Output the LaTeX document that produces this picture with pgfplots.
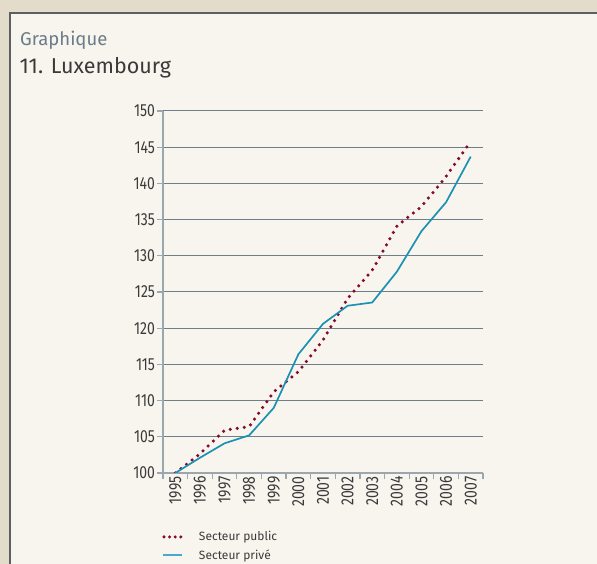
\documentclass[border=0pt]{standalone}
\usepackage{fontspec}
\setmainfont{Fira Sans}
\newfontfamily\condfont[FakeStretch=0.8]{Fira Sans}
\usepackage{pgfplots}
\pgfplotsset{compat=1.18}
\definecolor{outerbg}{HTML}{E4DCCB}
\definecolor{innerbg}{HTML}{F8F5EE}
\definecolor{boxline}{HTML}{5C6062}
\definecolor{gridcol}{HTML}{6F7F8A}
\definecolor{axiscol}{HTML}{9BA7AF}
\definecolor{privblue}{HTML}{1B91B3}
\definecolor{legblue}{HTML}{4AA8CC}
\definecolor{pubred}{HTML}{850B2C}
\definecolor{titlegray}{HTML}{6A7C88}
\definecolor{txt}{HTML}{3A3A3A}
\pgfplotsset{
  pubimg/.style={legend image code/.code={\draw[draw=pubred, line width=3.4bp, line cap=round, dash pattern=on 0bp off 5.6bp] (0bp,0bp) -- (17bp,0bp); \path[draw=none] (0bp,0bp) -- (33bp,0bp);}},
  privimg/.style={legend image code/.code={\draw[draw=legblue, line width=2bp, solid] (-1bp,0bp) -- (18bp,0bp); \path[draw=none] (0bp,0bp) -- (33bp,0bp);}},
}
\begin{document}
\begin{tikzpicture}
\useasboundingbox (0bp,0bp) rectangle (597bp,564bp);
\clip (0bp,0bp) rectangle (597bp,564bp);
\fill[outerbg] (0bp,0bp) rectangle (597bp,564bp);
\fill[innerbg] (10bp,-5bp) rectangle (605bp,551bp);
\draw[boxline, line width=2bp] (10bp,-5bp) -- (10bp,551bp) -- (605bp,551bp);
\node[anchor=base west, inner sep=0pt, text=titlegray, font=\fontsize{18.5bp}{18.5bp}\selectfont] at (20bp,518.5bp) {Graphique};
\node[anchor=base west, inner sep=0pt, text=txt, font=\fontsize{21.5bp}{21.5bp}\selectfont] at (19.5bp,490.7bp) {11. Luxembourg};
\begin{axis}[
  at={(163bp,91bp)}, anchor=south west,
  width=320bp, height=362bp, scale only axis,
  xmin=0, xmax=13, ymin=100, ymax=150,
  axis lines*=left,
  axis line style={draw=axiscol, line width=1.8bp},
  xtick={0,...,13}, xticklabels={},
  extra x ticks={0.5,1.5,...,12.5},
  extra x tick labels={1995,1996,1997,1998,1999,2000,2001,2002,2003,2004,2005,2006,2007},
  extra x tick style={major tick length=0pt, tick label style={rotate=90, anchor=east}},
  ytick={100,105,...,150},
  ymajorgrids, grid style={draw=gridcol, line width=1bp},
  major tick length=6bp, tick align=outside,
  tick style={draw=axiscol, line width=1.2bp},
  /pgf/number format/assume math mode=true,
  tick label style={text=txt, font=\condfont\fontsize{17.5bp}{17.5bp}\selectfont},
  yticklabel style={xshift=1.5bp},
  legend style={at={(axis description cs:-0.01,-0.15)}, anchor=north west, draw=none, fill=none,
    font=\fontsize{12bp}{12bp}\selectfont, text=txt, row sep=3.5bp, inner sep=2bp},
  legend cell align=left,
]
\addplot[color=pubred, line width=3.5bp, line cap=round, dash pattern=on 0bp off 7.1bp, pubimg]
  coordinates {(0.5,100) (1.5,102.65) (2.5,105.9) (3.5,106.4) (4.5,111.2) (5.5,114.0) (6.5,118.35)
  (7.5,124.1) (8.5,128.0) (9.5,134.1) (10.5,136.8) (11.5,140.95) (12.5,145.8)};
\addlegendentry{Secteur public}
\addplot[color=privblue, line width=1.7bp, line join=round, privimg]
  coordinates {(0.5,100) (1.5,102.1) (2.5,104.1) (3.5,105.2) (4.5,109.0) (5.5,116.4) (6.5,120.6)
  (7.5,123.1) (8.5,123.55) (9.5,127.8) (10.5,133.4) (11.5,137.4) (12.5,143.7)};
\addlegendentry{Secteur privé}
\end{axis}
\end{tikzpicture}
\end{document}
